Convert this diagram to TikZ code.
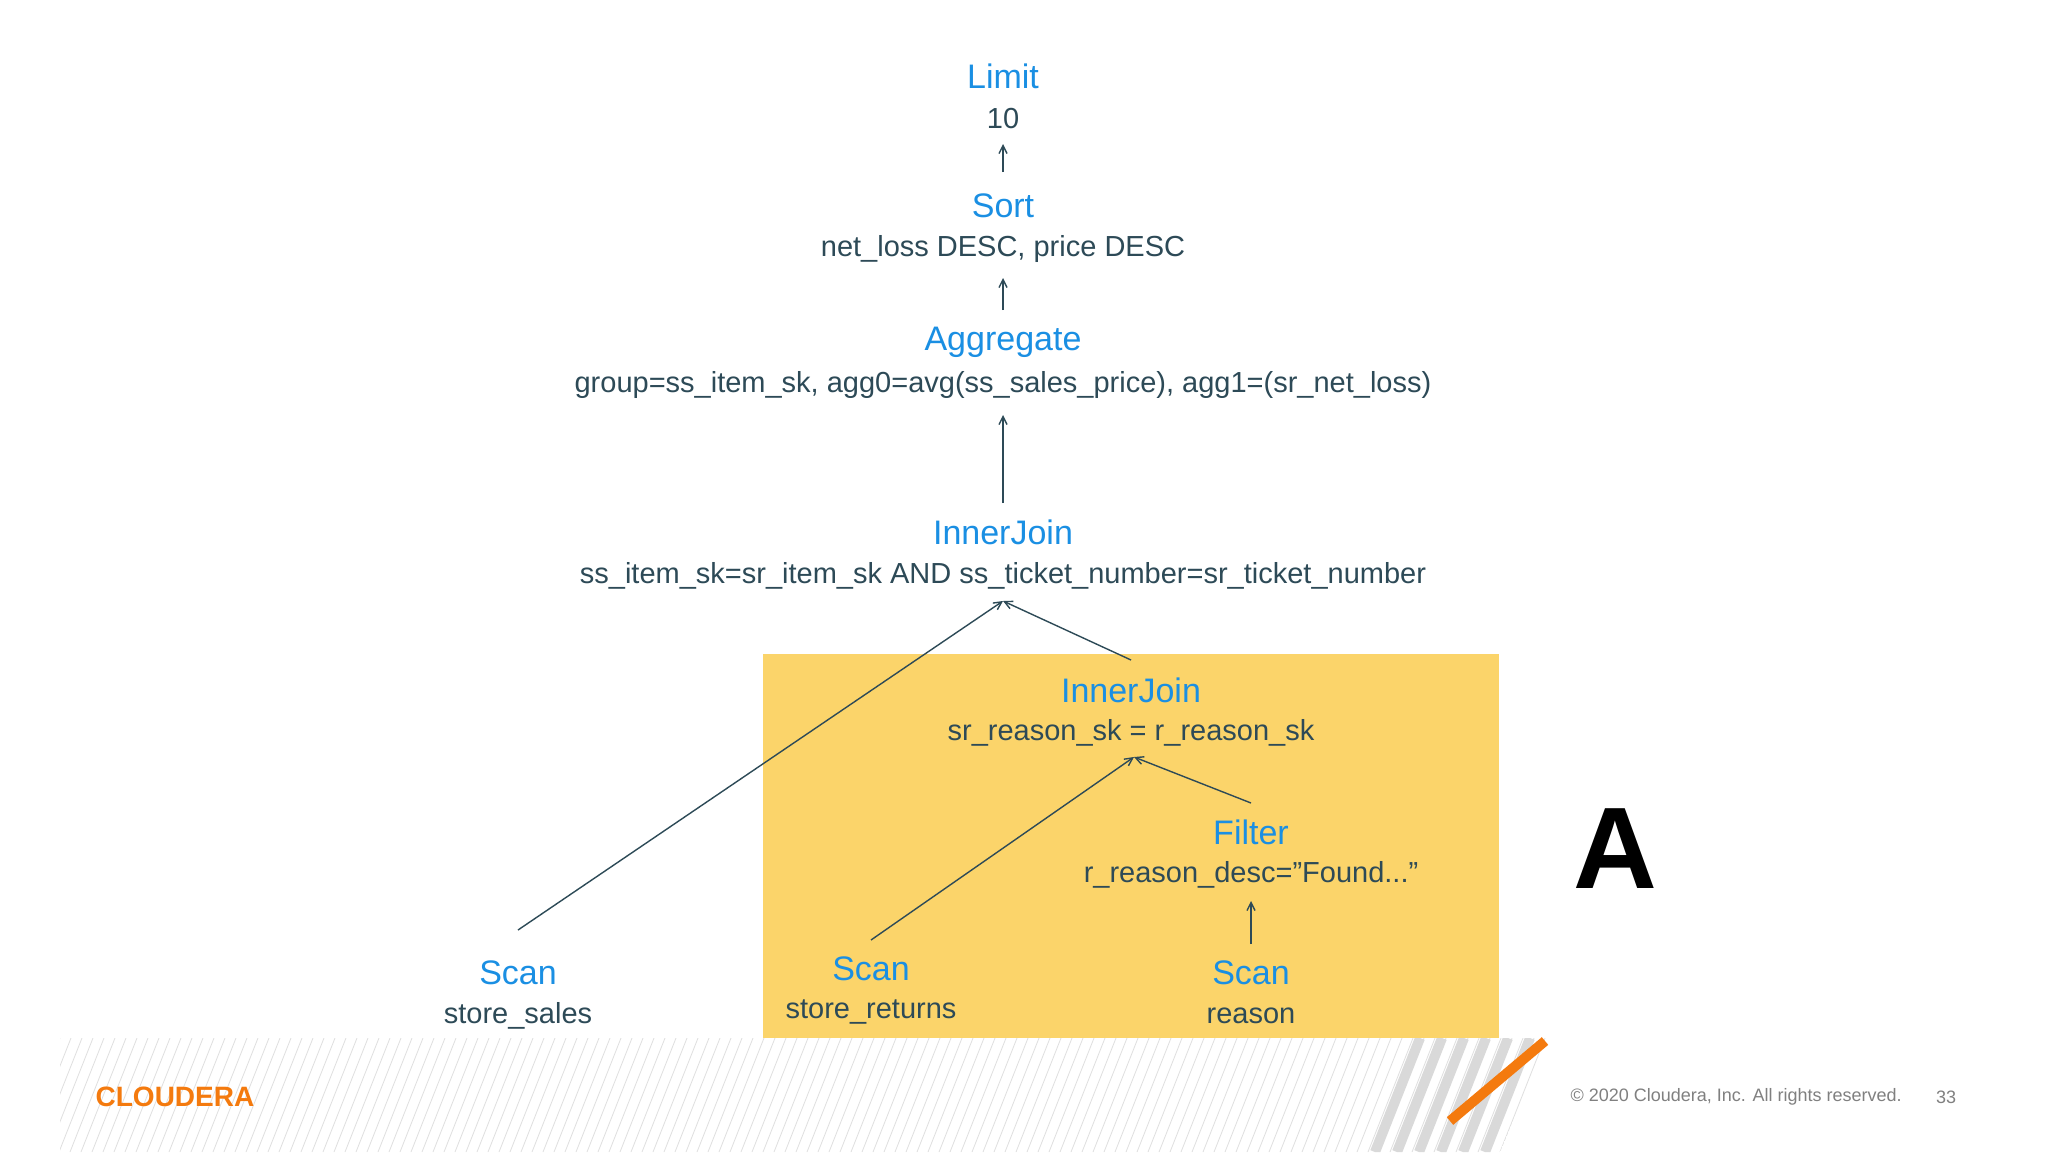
\documentclass[tikz,border=0pt]{standalone}
\usepackage{fontspec}
\setmainfont{Liberation Sans}
\usetikzlibrary{arrows.meta}
\definecolor{cblue}{HTML}{1A8FE3}
\definecolor{ctext}{HTML}{2D4A57}
\definecolor{cyel}{HTML}{FBD46A}
\definecolor{corange}{HTML}{F47A0E}
\begin{document}
\begin{tikzpicture}[x=0.5pt,y=-0.5pt,
  ttl/.style={text=cblue,font=\fontsize{17}{20}\selectfont,inner sep=0pt},
  det/.style={text=ctext,font=\fontsize{14.5}{17}\selectfont,inner sep=0pt},
  arr/.style={draw=ctext,line width=0.7pt,-{Straight Barb[length=4pt,width=4pt]}}]
\useasboundingbox (0,0) rectangle (2048,1152);
\fill[white] (0,0) rectangle (2048,1152);
% footer stripes
\begin{scope}
\clip (60,1038) -- (1548,1038) -- (1500,1152) -- (60,1152) -- cycle;
\foreach \i in {0,...,140}{
  \draw[gray!25,line width=0.4pt] ({60+\i*11},1038) -- ({60+\i*11-45},1152);
}
\foreach \i in {0,...,5}{
  \draw[gray!30,line width=5pt] ({1420+\i*22},1038) -- ({1420+\i*22-45},1152);
}
\end{scope}
\draw[corange,line width=5pt] (1545,1041) -- (1450,1121);
\node[text=corange,font=\bfseries\fontsize{14}{16}\selectfont,inner sep=0pt] (logo) at (175,1097) {CLOUDERA};
\node[text=gray,font=\fontsize{9}{11}\selectfont,anchor=east,inner sep=0pt] (copy) at (1902,1097) {© 2020 Cloudera, Inc. All rights reserved.};
\node[text=gray,font=\fontsize{9}{11}\selectfont,inner sep=0pt] (page) at (1946,1097) {33};
% yellow box
\fill[cyel] (763,654) rectangle (1499,1038);
% nodes
\node[ttl] (limT) at (1003,76) {Limit};
\node[det] (limD) at (1003,119) {10};
\node[ttl] (sortT) at (1003,206) {Sort};
\node[det] (sortD) at (1003,249) {net\_loss DESC, price DESC};
\node[ttl] (aggT) at (1003,342) {Aggregate};
\node[det] (aggD) at (1003,385) {group=ss\_item\_sk, agg0=avg(ss\_sales\_price), agg1=(sr\_net\_loss)};
\node[ttl] (ij1T) at (1003,532) {InnerJoin};
\node[det] (ij1D) at (1003,576) {ss\_item\_sk=sr\_item\_sk AND ss\_ticket\_number=sr\_ticket\_number};
\node[ttl] (ij2T) at (1131,690) {InnerJoin};
\node[det] (ij2D) at (1131,733) {sr\_reason\_sk = r\_reason\_sk};
\node[ttl] (filT) at (1251,832) {Filter};
\node[det] (filD) at (1251,875) {r\_reason\_desc=”Found...”};
\node[ttl] (s1T) at (518,973) {Scan};
\node[det] (s1D) at (518,1016) {store\_sales};
\node[ttl] (s2T) at (871,969) {Scan};
\node[det] (s2D) at (871,1012) {store\_returns};
\node[ttl] (s3T) at (1251,973) {Scan};
\node[det] (s3D) at (1251,1016) {reason};
\node[font=\bfseries\fontsize{58}{60}\selectfont,inner sep=0pt] (A) at (1615,849) {A};
% connector points
\coordinate (t1) at (1003,601);
\coordinate (t2) at (1134,757);
\coordinate (s1top) at (518,930);
\coordinate (s2top) at (871,940);
\coordinate (ij2top) at (1131,660);
\coordinate (filtop) at (1251,803);
\draw[arr] (1003,172) -- (1003,144);
\draw[arr] (1003,310) -- (1003,278);
\draw[arr] (1003,503) -- (1003,415);
\draw[arr] (s1top) -- (t1);
\draw[arr] (ij2top) -- (t1);
\draw[arr] (s2top) -- (t2);
\draw[arr] (filtop) -- (t2);
\draw[arr] (1251,944) -- (1251,901);
\end{tikzpicture}
\end{document}
